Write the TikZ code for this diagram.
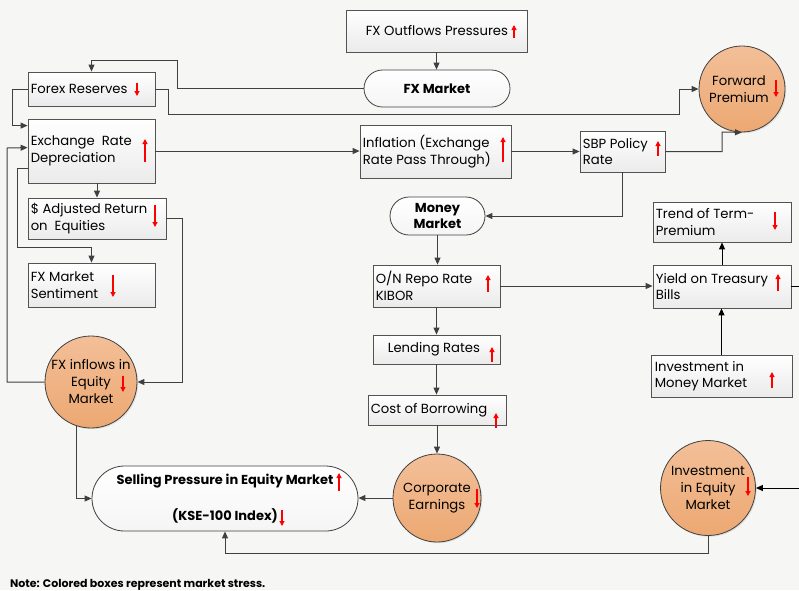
\documentclass[tikz,border=0pt]{standalone}
\usepackage{fontspec}
\setmainfont{Poppins}
\usetikzlibrary{arrows.meta,shapes.misc,shadows,calc}
\definecolor{bg}{HTML}{F6F7F5}
\definecolor{ln}{HTML}{404040}
\definecolor{orngT}{HTML}{F3BF98}
\definecolor{orngB}{HTML}{ECA872}
\newcommand\mybox[7]{%
  \node[box, minimum width={(#4-#2)*1pt}, minimum height={(#5-#3)*1pt}] (#1) at ({(#2+#4)/2},{(#3+#5)/2}) {};
  \node[lbl] (#1-t) at ($(#1.west)+(#6,0)$) {#7};}
\newcommand\rarrow[3]{\draw[rarr] (#1,#2) -- (#1,#3);}
\begin{document}
\begin{tikzpicture}[x=1pt,y=-1pt,
  font=\fontsize{13.2}{16.5}\selectfont,
  box/.style={draw=ln!90, line width=0.8pt, top color=white, bottom color=gray!16,
    drop shadow={shadow xshift=1.2pt,shadow yshift=-1.2pt,opacity=0.25}, inner sep=0pt},
  pill/.style={rounded rectangle, draw=ln, line width=0.8pt, top color=white, bottom color=gray!8,
    inner sep=0pt, align=center, font=\fontsize{13}{15.5}\selectfont\bfseries},
  circ/.style={circle, draw=ln, line width=0.8pt, top color=orngT, bottom color=orngB, inner sep=0pt,
    drop shadow={shadow xshift=1.2pt,shadow yshift=-1.2pt,opacity=0.2}},
  lbl/.style={anchor=west, align=left, inner sep=0pt},
  ctxt/.style={align=center, inner sep=0pt, font=\fontsize{13.2}{17}\selectfont},
  conn/.style={draw=ln, line width=1pt, -{Triangle[length=7pt,width=6pt]}},
  bconn/.style={draw=black, line width=1pt, -{Triangle[length=7pt,width=6pt]}},
  rarr/.style={draw=red, line width=1.1pt, -{Triangle[length=5pt,width=5pt]}},
]
\useasboundingbox (0,0) rectangle (799,590);
\fill[bg] (0,0) rectangle (799,590);

% ---- nodes ----
\mybox{fxo}{346}{10}{527}{52}{20}{FX Outflows Pressures}
\node[pill, minimum width=146pt, minimum height=37pt] (fxm) at (437,88.5) {FX Market};
\mybox{fxr}{28}{72}{155}{106}{3}{Forex Reserves}
\node[circ, minimum size=86pt] (fp) at (742,89) {};
\node[ctxt] (fp-t) at (739,89) {Forward\\Premium};
\mybox{erd}{28}{119}{155}{183}{3}{Exchange\ \ Rate\\Depreciation}
\mybox{infl}{360}{125}{511}{178}{3}{Inflation (Exchange\\Rate Pass Through)}
\mybox{sbp}{580}{131}{665}{172}{3}{SBP Policy\\Rate}
\node[pill, minimum width=95pt, minimum height=38pt] (mm) at (437.5,216) {Money\\Market};
\mybox{adj}{28}{198}{166}{239}{3}{\$ Adjusted Return\\on\ \ Equities}
\mybox{trend}{653}{202}{791}{242}{3}{Trend of Term-\\Premium}
\mybox{fxs}{28}{263}{155}{307}{3}{FX Market\\Sentiment}
\mybox{onr}{373}{265}{500}{307}{3}{O/N Repo Rate\\KIBOR}
\mybox{yield}{653}{265}{791}{308}{3}{Yield on Treasury\\Bills}
\mybox{lend}{373}{335}{500}{364}{15}{Lending Rates}
\mybox{imm}{651}{355}{792}{397}{4}{Investment in\\Money Market}
\node[circ, minimum size=92pt] (fxi) at (91,382) {};
\node[ctxt] (fxi-t) at (91,382) {FX inflows in\\Equity\\Market};
\mybox{cost}{368}{395}{506}{425}{3}{Cost of Borrowing}
\node[circ, minimum size=88pt] (ce) at (437,498) {};
\node[ctxt] (ce-t) at (437,498) {Corporate\\Earnings};
\node[pill, minimum width=266pt, minimum height=65pt] (sp) at (225,498.5) {};
\node[ctxt, font=\fontsize{13}{15.5}\selectfont\bfseries] (sp-t1) at (225,481) {Selling Pressure in Equity Market};
\node[ctxt, font=\fontsize{13}{15.5}\selectfont\bfseries] (sp-t2) at (225,516) {(KSE-100 Index)};
\node[circ, minimum size=95pt] (iem) at (708,488) {};
\node[ctxt] (iem-t) at (708,488) {Investment\\in Equity\\Market};
\node[anchor=base west, inner sep=0pt, font=\fontsize{11}{13}\selectfont\bfseries] (note) at (10,587) {Note: Colored boxes represent market stress.};

% ---- connectors ----
\draw[conn] (fxo.south) -- (fxo.south |- fxm.north);
\draw[conn] (fxm.west) -| (177,60) -| (fxr.north);
\draw[conn] (fxr.east) -- (168,89) |- (679,114) |- (fp.west);
\draw[conn] (fxr.west) -- (12,89) |- ($(erd.north west)+(0,7)$);
\draw[conn] (erd.east) -- (erd.east -| infl.west);
\draw[conn] (infl.east) -- (infl.east -| sbp.west);
\draw[conn] (sbp.east) -| (722,132) -- (fp.south);
\draw[conn] (sbp.south) |- (mm.east);
\draw[conn] (mm.south) -- (mm.south |- onr.north);
\draw[conn] (onr.east) -- (onr.east -| yield.west);
\draw[conn] (onr.south) -- (onr.south |- lend.north);
\draw[conn] (lend.south) -- (lend.south |- cost.north);
\draw[conn] (cost.south) -- (cost.south |- ce.north);
\draw[conn] (ce.west) -- (ce.west -| sp.east);
\draw[bconn] (yield.north) -- (yield.north |- trend.south);
\draw[bconn] (imm.north) -- (imm.north |- yield.south);
\begin{scope}
\clip (0,0) rectangle (799,590);
\draw[bconn] (yield.east) -- (806,286.5) |- (iem.east);
\end{scope}
\draw[conn] (iem.south) -- (708,553) -| (sp.south);
\draw[conn] (fxi.252) |- (sp.west);
\draw[conn] (erd.south -| adj.north) -- (adj.north);
\draw[conn] ($(erd.south west)+(0,-15)$) -| (17,247) -| (fxs.north);
\draw[conn] (fxi.west) -| (7,148) -- ($(erd.north west)+(0,29)$);
\draw[conn] (adj.east) -- (182,218.5) |- (fxi.east);

% ---- red trend arrows ----
\rarrow{514}{38}{25}
\rarrow{137}{83}{96}
\rarrow{145}{162}{139}
\rarrow{503}{162}{137}
\rarrow{658}{156}{141}
\rarrow{776}{80}{97}
\rarrow{155}{205}{227}
\rarrow{113}{275}{297}
\rarrow{123}{376}{392}
\rarrow{775}{212}{230}
\rarrow{488}{292}{275}
\rarrow{778}{291}{274}
\rarrow{492}{362}{347}
\rarrow{772}{388}{372}
\rarrow{496}{428}{413}
\rarrow{339}{491}{473}
\rarrow{282}{510}{526}
\rarrow{477}{489}{508}
\rarrow{748}{477}{496}
\end{tikzpicture}
\end{document}
